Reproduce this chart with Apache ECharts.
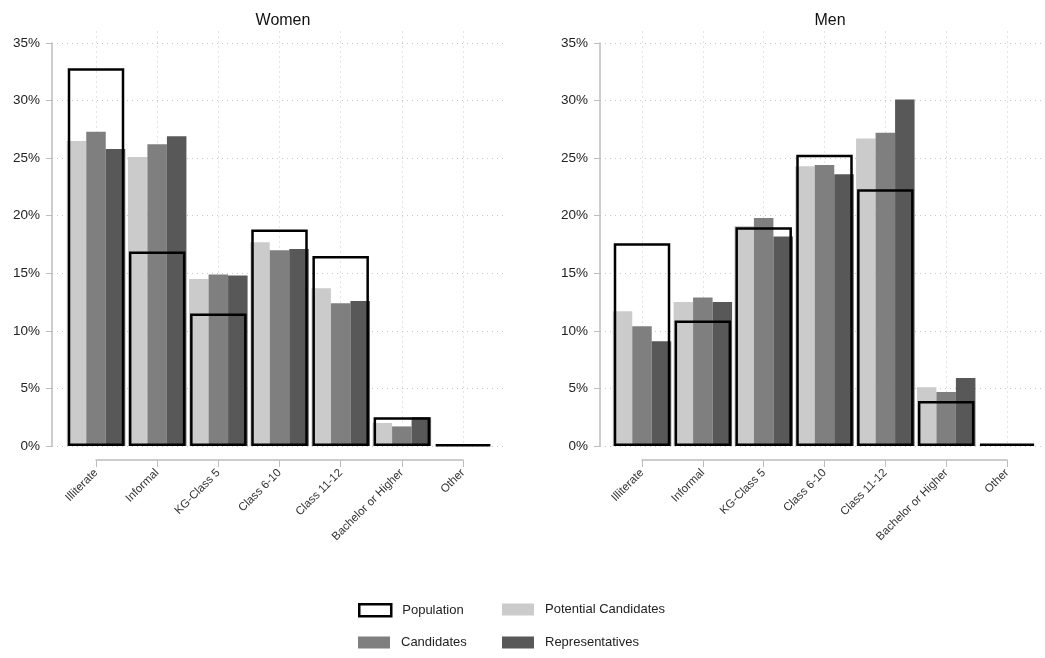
<!DOCTYPE html>
<html>
<head>
<meta charset="utf-8">
<script src="https://cdn.jsdelivr.net/npm/echarts@6/dist/echarts.min.js"></script>
<style>
  html, body { margin: 0; padding: 0; background: #fff; }
  #main { width: 1045px; height: 658px; }
</style>
</head>
<body>
<div id="main"></div>
<script>
// education levels, percentages
var categories = ['Illiterate', 'Informal', 'KG-Class 5', 'Class 6-10', 'Class 11-12', 'Bachelor or Higher', 'Other']

var womenPopulation = [32.8, 16.9, 11.5, 18.8, 16.5, 2.5, 0.15]
var womenPotential = [26.5, 25.1, 14.5, 17.7, 13.7, 2.0, 0]
var womenCandidates = [27.3, 26.2, 14.9, 17.0, 12.4, 1.7, 0]
var womenReps = [25.8, 26.9, 14.8, 17.1, 12.6, 2.5, 0]

var menPopulation = [17.6, 10.9, 19.0, 25.3, 22.3, 3.9, 0.2]
var menPotential = [11.7, 12.5, 19.1, 24.3, 26.7, 5.1, 0]
var menCandidates = [10.4, 12.9, 19.8, 24.4, 27.2, 4.7, 0]
var menReps = [9.1, 12.5, 18.2, 23.6, 30.1, 5.9, 0]

var yMax = 35
var yStep = 5

var font = 'Liberation Sans, Arial, sans-serif'
var colLight = '#cbcbcb'
var colMid = '#7f7f7f'
var colDark = '#585858'

var myChart = echarts.init(document.getElementById('main'))

// frame grid carries the y axis, bars grid carries categories + bars
function frameY (grid) {
  return {
    type: 'value', gridIndex: grid, min: 0, max: yMax, interval: yStep,
    axisLine: { show: true, lineStyle: { color: '#bdbdbd', width: 1.5 } },
    axisTick: { show: true, length: 6, lineStyle: { color: '#bdbdbd' } },
    axisLabel: { formatter: '{value}%', fontSize: 13.5, color: '#222', margin: 12, fontFamily: font },
    splitLine: { show: true, lineStyle: { type: [1, 4], color: '#c8c8c8' } }
  }
}
function barsY (grid) {
  return { type: 'value', gridIndex: grid, min: 0, max: 36, show: false }
}
function catX (grid) {
  return {
    type: 'category', gridIndex: grid, data: categories, boundaryGap: false, offset: 14,
    axisLine: { show: true, onZero: false, lineStyle: { color: '#bdbdbd', width: 1.5 } },
    axisTick: { show: true, length: 7, alignWithLabel: true, lineStyle: { color: '#bdbdbd' } },
    axisLabel: { rotate: 45, fontSize: 11.5, color: '#333', margin: 11, interval: 0, fontFamily: font },
    splitLine: { show: true, interval: 0, lineStyle: { type: [1, 4], color: '#c8c8c8' } }
  }
}
function popX (grid) {
  return { type: 'category', gridIndex: grid, data: categories, boundaryGap: false, show: false }
}

function groupSeries (xi, yi, pop, pot, cand, reps) {
  var common = { type: 'bar', xAxisIndex: xi, yAxisIndex: yi, barWidth: 19.5, barGap: '0%', clip: false }
  return [
    Object.assign({ name: 'Potential Candidates', data: pot, itemStyle: { color: colLight } }, common),
    Object.assign({ name: 'Candidates', data: cand, itemStyle: { color: colMid } }, common),
    Object.assign({ name: 'Representatives', data: reps, itemStyle: { color: colDark } }, common),
    {
      name: 'Population', type: 'bar', xAxisIndex: xi + 1, yAxisIndex: yi, data: pop,
      barWidth: 56.5, clip: false, z: 5,
      itemStyle: { color: 'rgba(0,0,0,0)', borderColor: '#000', borderWidth: 2.5 }
    }
  ]
}

// one legend per entry so the 2x2 layout is fixed
function legendItem (name, left, top, extra) {
  var item = Object.assign({ name: name }, extra || {})
  return {
    left: left, top: top, icon: 'rect', itemWidth: 32, itemHeight: 12,
    textStyle: { fontSize: 13, color: '#222', padding: [0, 0, 0, 6] },
    data: [item]
  }
}

var option = {
  animation: false,
  textStyle: { fontFamily: font },
  title: [
    { text: 'Women', left: 278, top: 8, textAlign: 'center', textStyle: { fontSize: 16, fontWeight: 'normal', color: '#111' } },
    { text: 'Men', left: 825, top: 8, textAlign: 'center', textStyle: { fontSize: 16, fontWeight: 'normal', color: '#111' } }
  ],
  legend: [
    legendItem('Population', 353, 598, { itemStyle: { color: '#fff', borderColor: '#000', borderWidth: 2.5 } }),
    legendItem('Candidates', 353, 631),
    legendItem('Potential Candidates', 497, 598),
    legendItem('Representatives', 497, 631)
  ],
  grid: [
    { left: 52, right: 540, top: 43, bottom: 212 },
    { left: 96, right: 582, top: 31.5, bottom: 212 },
    { left: 600, right: 0, top: 43, bottom: 212 },
    { left: 642, right: 38, top: 31.5, bottom: 212 }
  ],
  xAxis: [
    { type: 'value', gridIndex: 0, show: false },
    catX(1),
    popX(1),
    { type: 'value', gridIndex: 2, show: false },
    catX(3),
    popX(3)
  ],
  yAxis: [frameY(0), barsY(1), frameY(2), barsY(3)],
  series: [].concat(
    groupSeries(1, 1, womenPopulation, womenPotential, womenCandidates, womenReps),
    groupSeries(4, 3, menPopulation, menPotential, menCandidates, menReps)
  )
}

myChart.setOption(option)
</script>
</body>
</html>
